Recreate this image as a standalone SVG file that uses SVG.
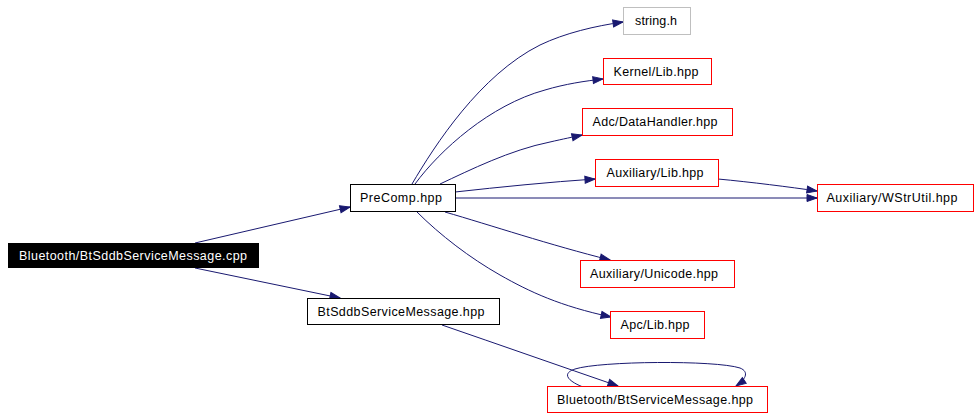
<svg xmlns="http://www.w3.org/2000/svg" width="979" height="419" viewBox="0 0 979 419">
<style>
.n{fill:#ffffff;stroke:#ff0000;stroke-width:1}
.g{fill:#ffffff;stroke:#bfbfbf;stroke-width:1}
.b{fill:#ffffff;stroke:#000000;stroke-width:1}
.k{fill:#000000;stroke:#000000;stroke-width:1}
text{font-family:"Liberation Sans",Arial,Helvetica,sans-serif;font-size:12.5px;fill:#000000;text-anchor:middle}
.w{fill:#ffffff}
.e{fill:none;stroke:#191970;stroke-width:1;marker-end:url(#ah)}
</style>
<defs>
<marker id="ah" markerUnits="userSpaceOnUse" markerWidth="11" markerHeight="8" refX="10" refY="3.5" orient="auto" overflow="visible">
<path d="M0,0 L10,3.5 L0,7 z" fill="#191970" stroke="#191970" stroke-width="1"/>
</marker>
</defs>
<rect width="979" height="419" fill="#ffffff"/>
<g id="edges">
<path class="e" d="M195,243 L350,207"/>
<path class="e" d="M195,268 L340,298"/>
<path class="e" d="M412,184 C435,145 480,75 540,45 C565,33 595,26 623,22"/>
<path class="e" d="M415,184 C440,150 490,105 545,90 C565,84 585,81 603,79"/>
<path class="e" d="M440,184 C470,170 510,150 550,142 C563,139 573,137 582,135"/>
<path class="e" d="M455,192 C500,187 550,182 595,179"/>
<path class="e" d="M455,198 L817,198"/>
<path class="e" d="M718,179 C750,182 790,187 817,191"/>
<path class="e" d="M445,212 C490,225 550,245 610,260"/>
<path class="e" d="M417,212 C440,235 470,258 500,275 C530,292 560,306 611,317"/>
<path class="e" d="M442,325 C500,345 560,366 618,386"/>
<path class="e" d="M583,387 C570,382 560,374 575,369 C600,361 715,360 740,368 C750,372 745,380 736,386"/>
</g>
<g id="node-cpp">
<rect class="k" x="8.5" y="243.5" width="250" height="24"/>
<text class="w" x="133" y="259.5" textLength="228" lengthAdjust="spacing">Bluetooth/BtSddbServiceMessage.cpp</text>
</g>
<g id="node-precomp">
<rect class="b" x="350.5" y="184.5" width="105" height="27"/>
<text x="401" y="202" textLength="82" lengthAdjust="spacing">PreComp.hpp</text>
</g>
<g id="node-btsddb-hpp">
<rect class="b" x="307.5" y="298.5" width="192" height="26"/>
<text x="401" y="316" textLength="167" lengthAdjust="spacing">BtSddbServiceMessage.hpp</text>
</g>
<g id="node-string">
<rect class="g" x="623.5" y="7.5" width="67" height="27"/>
<text x="656" y="25" textLength="42" lengthAdjust="spacing">string.h</text>
</g>
<g id="node-kernel">
<rect class="n" x="603.5" y="58.5" width="108" height="26"/>
<text x="656" y="76" textLength="85" lengthAdjust="spacing">Kernel/Lib.hpp</text>
</g>
<g id="node-adc">
<rect class="n" x="582.5" y="108.5" width="150" height="27"/>
<text x="655" y="126" textLength="125" lengthAdjust="spacing">Adc/DataHandler.hpp</text>
</g>
<g id="node-auxlib">
<rect class="n" x="595.5" y="159.5" width="123" height="27"/>
<text x="655" y="177" textLength="97" lengthAdjust="spacing">Auxiliary/Lib.hpp</text>
</g>
<g id="node-wstrutil">
<rect class="n" x="817.5" y="184.5" width="156" height="27"/>
<text x="892" y="202" textLength="131" lengthAdjust="spacing">Auxiliary/WStrUtil.hpp</text>
</g>
<g id="node-unicode">
<rect class="n" x="580.5" y="260.5" width="154" height="27"/>
<text x="654" y="278" textLength="128" lengthAdjust="spacing">Auxiliary/Unicode.hpp</text>
</g>
<g id="node-apc">
<rect class="n" x="610.5" y="311.5" width="94" height="27"/>
<text x="655" y="329" textLength="69" lengthAdjust="spacing">Apc/Lib.hpp</text>
</g>
<g id="node-btservice">
<rect class="n" x="547.5" y="386.5" width="220" height="26"/>
<text x="655" y="404" textLength="196" lengthAdjust="spacing">Bluetooth/BtServiceMessage.hpp</text>
</g>
</svg>
